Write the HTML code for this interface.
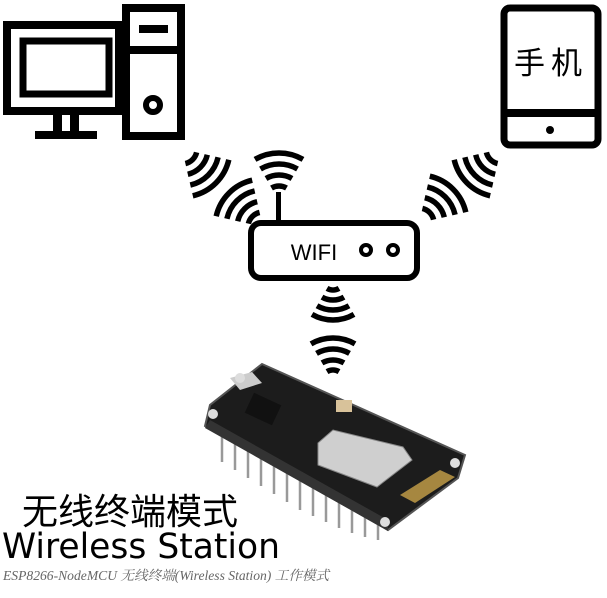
<!DOCTYPE html>
<html><head><meta charset="utf-8"><style>
html,body{margin:0;padding:0;background:#fff;width:607px;height:598px;overflow:hidden}
svg{display:block}
</style></head><body>
<svg id="s" width="607" height="598" viewBox="0 0 607 598" xmlns="http://www.w3.org/2000/svg">
<!-- computer -->
<rect x="7" y="25" width="112" height="86" fill="none" stroke="#000" stroke-width="8"/>
<rect x="23" y="41" width="86" height="53" fill="none" stroke="#000" stroke-width="7"/>
<rect x="53" y="114" width="9" height="20" fill="#000"/>
<rect x="70" y="114" width="9" height="20" fill="#000"/>
<rect x="35" y="131" width="62" height="8" fill="#000"/>
<rect x="126" y="8" width="55" height="128" fill="none" stroke="#000" stroke-width="8"/>
<rect x="126" y="46" width="55" height="8" fill="#000"/>
<rect x="139" y="25" width="29" height="8" fill="#000"/>
<circle cx="153" cy="105" r="7" fill="none" stroke="#000" stroke-width="6"/>
<!-- phone -->
<rect x="504" y="8" width="94" height="137" rx="6" fill="none" stroke="#000" stroke-width="7"/>
<rect x="504" y="109" width="94" height="8" fill="#000"/>
<circle cx="550" cy="130" r="4" fill="#000"/>
<text x="551" y="74" font-family="'Liberation Sans','Noto Sans CJK SC',sans-serif" font-size="31" text-anchor="middle" letter-spacing="6">手机</text>
<!-- router -->
<rect x="251" y="223" width="166" height="55" rx="10" fill="none" stroke="#000" stroke-width="6"/>
<rect x="276" y="192" width="5" height="32" fill="#000"/>
<text x="314" y="260" font-family="'Liberation Sans',sans-serif" font-size="22" text-anchor="middle">WIFI</text>
<circle cx="366" cy="250" r="5" fill="none" stroke="#000" stroke-width="4"/>
<circle cx="393" cy="250" r="5" fill="none" stroke="#000" stroke-width="4"/>
<g id="waves" fill="none" stroke="#000" stroke-width="5.5"></g>
<!-- board -->
<g>
<g stroke="#999" stroke-width="2.5">
<line x1="222" y1="430" x2="222" y2="462"/><line x1="235" y1="438" x2="235" y2="470"/>
<line x1="248" y1="445" x2="248" y2="478"/><line x1="261" y1="452" x2="261" y2="486"/>
<line x1="274" y1="459" x2="274" y2="494"/><line x1="287" y1="466" x2="287" y2="502"/>
<line x1="300" y1="473" x2="300" y2="510"/><line x1="313" y1="480" x2="313" y2="516"/>
<line x1="326" y1="487" x2="326" y2="522"/><line x1="339" y1="494" x2="339" y2="528"/>
<line x1="352" y1="500" x2="352" y2="533"/><line x1="365" y1="506" x2="365" y2="537"/>
<line x1="378" y1="512" x2="378" y2="540"/>
</g>
<polygon points="262,364 465,455 458,478 388,530 205,426 210,405" fill="#1c1c1c" stroke="#555" stroke-width="2"/>
<polygon points="210,420 388,520 388,531 205,428" fill="#333"/>
<polygon points="230,378 252,372 262,383 240,390" fill="#ccc"/>
<rect x="248" y="398" width="30" height="22" fill="#111" transform="rotate(25 263 409)"/>
<rect x="336" y="400" width="16" height="12" fill="#d8c29a"/>
<polygon points="318,443 333,430 403,447 412,460 377,487 318,465" fill="#cfcfcf" stroke="#888"/>
<polygon points="400,495 440,470 455,477 415,503" fill="#c9a24a" opacity="0.8"/>
<circle cx="240" cy="378" r="5" fill="#ddd"/>
<circle cx="213" cy="414" r="5" fill="#ddd"/>
<circle cx="455" cy="463" r="5" fill="#ddd"/>
<circle cx="385" cy="522" r="5" fill="#ddd"/>
</g>
<!-- texts -->
<text x="22" y="524" font-family="'Liberation Sans','Noto Sans CJK SC',sans-serif" font-size="36">无线终端模式</text>
<text x="2" y="558" font-family="'DejaVu Sans','Liberation Sans',sans-serif" font-size="34.5">Wireless Station</text>
<text x="3" y="580" font-family="'Liberation Serif','Noto Serif CJK SC',serif" font-style="italic" font-size="13.6" fill="#666">ESP8266-NodeMCU 无线终端(Wireless Station) 工作模式</text>
</svg>
<script>
var g=document.getElementById('waves'),s='';
function grp(cx,cy,dir,radii,half){
 radii.forEach(function(r){
  var a1=(dir-half)*Math.PI/180,a2=(dir+half)*Math.PI/180;
  var x1=cx+r*Math.cos(a1),y1=cy+r*Math.sin(a1),x2=cx+r*Math.cos(a2),y2=cy+r*Math.sin(a2);
  s+='<path d="M'+x1.toFixed(1)+' '+y1.toFixed(1)+' A'+r+' '+r+' 0 0 1 '+x2.toFixed(1)+' '+y2.toFixed(1)+'"/>';
 });
}
var R=[15,26,37,48];
grp(182,149,45,R,32);
grp(263,227,225,R,32);
grp(501,149,135,R,32);
grp(419,223,-45,R,32);
grp(279,201,-90,R,30);
grp(333,278,90,[12,22,32,42],30);
grp(333,382,-90,[12,22,33,44],30);
g.innerHTML=s;
</script>
</body></html>
